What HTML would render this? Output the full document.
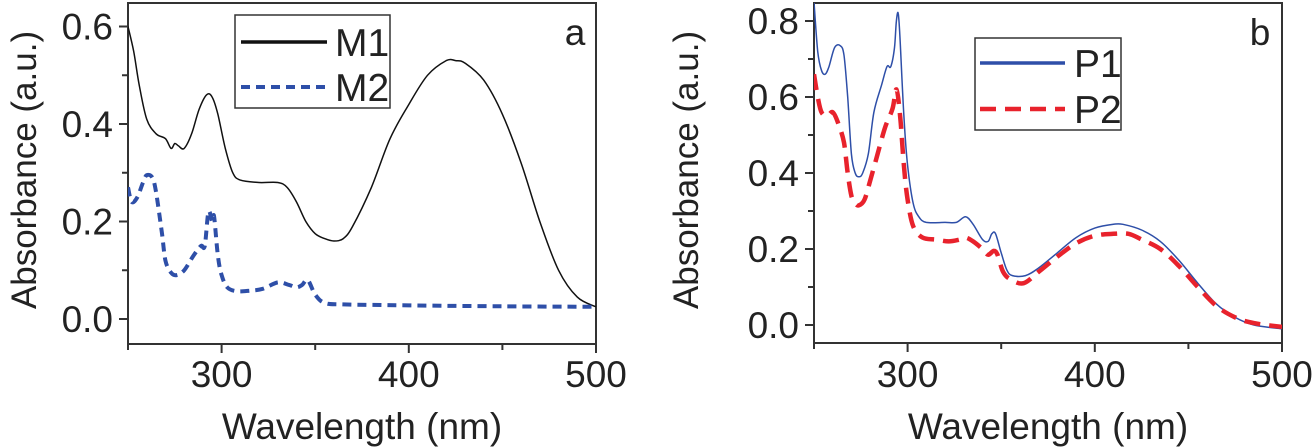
<!DOCTYPE html>
<html><head><meta charset="utf-8"><style>
html,body{margin:0;padding:0;background:#fff;}
svg{display:block;font-family:"Liberation Sans",Arial,sans-serif;}
</style></head><body>
<svg id="chart" width="1313" height="447" viewBox="0 0 1313 447"></svg>
<script>
const m1X=[250,253,256,260,265,270,273,275,277,280,284,288,292,295,298,302,306,310,320,330,335,340,345,350,355,360,365,370,380,390,400,410,420,425,430,440,450,460,470,480,490,500];
const m1Y=[.60,.55,.48,.41,.38,.37,.35,.36,.355,.35,.38,.43,.46,.455,.42,.35,.30,.285,.28,.28,.27,.24,.20,.175,.165,.16,.165,.19,.27,.37,.44,.50,.53,.53,.525,.49,.42,.32,.20,.10,.045,.025];
const m2X=[250,252,255,258,260,263,265,268,270,273,276,280,285,289,291,293,295,296,298,300,303,308,315,322,330,336,340,343,346,350,355,365,400,450,500];
const m2Y=[.27,.24,.25,.28,.295,.29,.26,.18,.12,.095,.09,.10,.13,.15,.15,.22,.20,.21,.13,.09,.065,.057,.058,.062,.075,.07,.065,.07,.08,.05,.033,.03,.028,.026,.025];
const p1X=[250,252,254,256,258,261,264,266,268,270,272,274,276,279,282,286,289,291,293,294,295,296,298,300,303,306,310,320,326,331,335,340,343,345,347,350,353,356,363,370,380,390,400,410,415,425,435,445,455,465,475,485,500];
const p1Y=[.85,.72,.67,.66,.68,.73,.735,.71,.6,.45,.4,.39,.4,.45,.56,.63,.68,.68,.73,.80,.82,.75,.55,.42,.32,.285,.27,.27,.27,.285,.265,.225,.22,.24,.24,.19,.145,.13,.13,.15,.19,.23,.255,.265,.265,.25,.22,.17,.11,.055,.02,0,-.01];
const p2X=[250,252,254,257,260,263,266,268,270,272,274,277,280,284,288,292,294,296,298,300,303,308,315,322,328,331,335,340,343,346,348,351,355,362,370,380,390,400,410,418,425,435,445,455,465,475,485,500];
const p2Y=[.66,.6,.56,.55,.56,.53,.48,.4,.34,.32,.315,.33,.38,.45,.52,.57,.62,.55,.42,.33,.26,.23,.225,.22,.225,.23,.22,.2,.185,.195,.185,.14,.12,.11,.14,.18,.215,.235,.24,.24,.225,.2,.155,.1,.05,.02,.005,-.005];
const xTicks=[250,300,350,400,450,500];
const xLabels=["300","400","500"];
const aYTicks=[0,0.1,0.2,0.3,0.4,0.5,0.6];
const aYLabels=["0.0","0.2","0.4","0.6"];
const bYTicks=[0,0.1,0.2,0.3,0.4,0.5,0.6,0.7,0.8];
const bYLabels=["0.0","0.2","0.4","0.6","0.8"];

const svg=document.getElementById('chart');
const NS='http://www.w3.org/2000/svg';
function mk(tag,attrs,parent){const e=document.createElementNS(NS,tag);for(const k in attrs)e.setAttribute(k,attrs[k]);(parent||svg).appendChild(e);return e;}
function smooth(P){
  let d='M'+P[0][0].toFixed(1)+','+P[0][1].toFixed(1);
  for(let i=0;i<P.length-1;i++){
    const p0=P[i-1]||P[i],p1=P[i],p2=P[i+1],p3=P[i+2]||P[i+1];
    const c1=[p1[0]+(p2[0]-p0[0])/6,p1[1]+(p2[1]-p0[1])/6];
    const c2=[p2[0]-(p3[0]-p1[0])/6,p2[1]-(p3[1]-p1[1])/6];
    d+=` C${c1[0].toFixed(1)},${c1[1].toFixed(1)} ${c2[0].toFixed(1)},${c2[1].toFixed(1)} ${p2[0].toFixed(1)},${p2[1].toFixed(1)}`;
  }
  return d;
}

function panel(cfg){
  const g=mk('g',{});
  
  
  const sx=v=>cfg.x0+(v-250)/250*(cfg.x1-cfg.x0);
  const sy=v=>cfg.y0-v*cfg.k;
  const frame=mk('rect',{x:cfg.x0,y:3,width:cfg.x1-cfg.x0,height:cfg.yb-3,fill:'none',stroke:'#333','stroke-width':2},g);
  
  
  xTicks.forEach(t=>{const major=t%100===0;const l=mk('line',{x1:sx(t),x2:sx(t),y1:cfg.yb,y2:cfg.yb+(major?9:6),stroke:'#333','stroke-width':2},g);
    
    });
  xLabels.forEach(s=>{const t=mk('text',{x:sx(+s),y:387,'font-size':37,'text-anchor':'middle',fill:'#222'},g);t.textContent=s;
    
    });
  cfg.yt.forEach(v=>{const major=Math.round(v*10)%2===0;const l=mk('line',{x1:cfg.x0,x2:cfg.x0-(major?9:6),y1:sy(v),y2:sy(v),stroke:'#333','stroke-width':2},g);
    
    });
  cfg.yl.forEach(s=>{const t=mk('text',{x:cfg.x0-15,y:sy(+s)+13,'font-size':37,'text-anchor':'end',fill:'#222'},g);t.textContent=s;
    
    });
  const xt=mk('text',{x:(cfg.x0+cfg.x1)/2,y:439,'font-size':37,'text-anchor':'middle',fill:'#222'},g);xt.textContent='Wavelength (nm)';
  
  
  const yt=mk('text',{x:0,y:0,'font-size':35,'text-anchor':'middle',fill:'#222',transform:`translate(${cfg.ytx},170) rotate(-90)`},g);yt.textContent='Absorbance (a.u.)';
  
  
  const clipId='clip'+cfg.name;
  const cp=mk('clipPath',{id:clipId},g);mk('rect',{x:cfg.x0,y:3,width:cfg.x1-cfg.x0,height:cfg.yb-3},cp);
  cfg.series.forEach(s=>{
    const P=s.x.map((v,i)=>[sx(v),sy(s.y[i])]);
    const p=mk('path',{d:smooth(P),fill:'none',stroke:s.color,'stroke-width':s.w,'stroke-dasharray':s.dash||'none','stroke-linejoin':'round','clip-path':`url(#${clipId})`},g);
    
    
  });
  const L=cfg.legend;
  const box=mk('rect',{x:L.x,y:L.y,width:L.w,height:L.h,fill:'#fff',stroke:'#333','stroke-width':1.5},g);
  
  
  cfg.series.forEach((s,i)=>{
    const yy=L.rows[i];
    const ln=mk('line',{x1:L.lx1,x2:L.lx2,y1:yy,y2:yy,stroke:s.color,'stroke-width':s.lw,'stroke-dasharray':s.ldash||'none'},g);
    
    
    const t=mk('text',{x:L.tx,y:yy+14,'font-size':39,fill:'#222'},g);t.textContent=s.label;
    
    
  });
  const tag=mk('text',{x:cfg.tagx,y:45,'font-size':37,'text-anchor':'middle',fill:'#222'},g);tag.textContent=cfg.tag;
  
  
}
panel({name:'panel-a',x0:128,x1:596,y0:319,k:487.5,yb:344,yt:aYTicks,yl:aYLabels,ytx:36,tag:'a',tagx:575,
  legend:{x:235,y:15,w:155,h:93,rows:[42,87],lx1:241,lx2:327,tx:335},
  series:[{id:'m1',label:'M1',x:m1X,y:m1Y,color:'#111',w:1.5,lw:3.5},
          {id:'m2',label:'M2',x:m2X,y:m2Y,color:'#2e4fa8',w:4,dash:'9 6',lw:4,ldash:'9 6'}]});
panel({name:'panel-b',x0:814,x1:1282,y0:325,k:380,yb:343,yt:bYTicks,yl:bYLabels,ytx:698,tag:'b',tagx:1260,
  legend:{x:975,y:38,w:146,h:92,rows:[63,109],lx1:980,lx2:1065,tx:1074},
  series:[{id:'p1',label:'P1',x:p1X,y:p1Y,color:'#2e4fa8',w:1.5,lw:3.5},
          {id:'p2',label:'P2',x:p2X,y:p2Y,color:'#e8222c',w:4.5,dash:'16 9',lw:4.5,ldash:'16 9'}]});
</script>
</body></html>
